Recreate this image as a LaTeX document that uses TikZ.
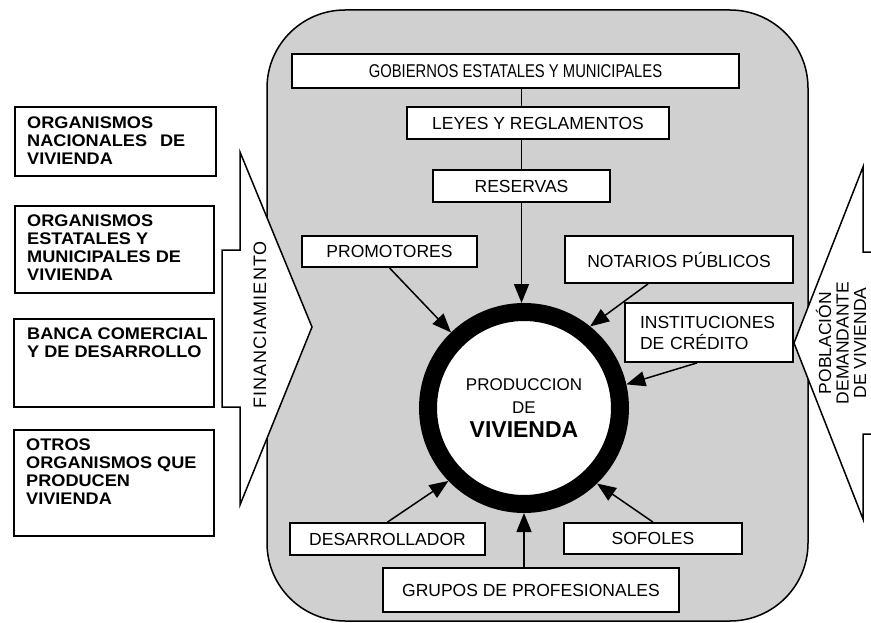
\documentclass[tikz,border=0pt]{standalone}
\usepackage{fontspec}
\setmainfont{Liberation Sans}
\newfontfamily\narrowsans[FakeStretch=0.8]{Liberation Sans}
\newfontfamily\widesans[FakeStretch=1.08]{Liberation Sans}
\usetikzlibrary{arrows.meta}
\definecolor{panelgray}{RGB}{208,208,208}
\begin{document}
\begin{tikzpicture}[x=1pt,y=-1pt,
  box/.style={draw, fill=white, line width=1.8pt, inner sep=0pt,
    font=\fontsize{17.5}{21}\selectfont},
  orgbox/.style={draw, fill=white, line width=1.8pt, inner sep=0pt, anchor=north west},
  orgtext/.style={anchor=north west, inner sep=0pt, align=left,
    font=\widesans\bfseries\fontsize{16.8}{17.7}\selectfont},
  feed/.style={line width=1.5pt, -{Triangle[length=19pt,width=15pt]}},
  link/.style={line width=1.5pt},
  bigarrow/.style={draw, fill=white, line width=1.5pt, line join=miter}
]
\useasboundingbox (0,0) rectangle (871,623);

% central panel
\draw[fill=panelgray, line width=1.5pt, rounded corners=78pt] (267,10) rectangle (808,621);

% financing arrow
\draw[bigarrow] (240,152) -- (312,327) -- (240,505) -- (240,407) -- (222,407)
  -- (222,250) -- (240,250) -- cycle;
\node[rotate=90, inner sep=0pt, font=\fontsize{18}{20}\selectfont\addfontfeatures{LetterSpace=6}]
  (fin) at (260,325) {FINANCIAMIENTO};

% demand arrow
\draw[bigarrow] (885,252) -- (863,252) -- (863,167) -- (794,343) -- (863,519)
  -- (863,434) -- (885,434) -- cycle;
\node[rotate=90, align=center, inner sep=0pt, font=\fontsize{17.5}{17.5}\selectfont]
  (pob) at (841,343) {POBLACIÓN\\DEMANDANTE\\DE VIVIENDA};

% funding bodies
\node[orgbox, minimum width=201pt, minimum height=69pt] (nac) at (14,106) {};
\node[orgtext] (nact) at (27,117) {ORGANISMOS\\NACIONALES\hspace{13pt}DE\\VIVIENDA};
\node[orgbox, minimum width=199pt, minimum height=87pt] (est) at (14,205) {};
\node[orgtext] (estt) at (27,215) {ORGANISMOS\\ESTATALES Y\\MUNICIPALES DE\\VIVIENDA};
\node[orgbox, minimum width=200pt, minimum height=88pt] (ban) at (13,318) {};
\node[orgtext] (bant) at (27,328) {BANCA COMERCIAL\\Y DE DESARROLLO};
\node[orgbox, minimum width=200pt, minimum height=106pt] (otr) at (13,429) {};
\node[orgtext] (otrt) at (26,439) {OTROS\\ORGANISMOS QUE\\PRODUCEN\\VIVIENDA};

% actors around production
\node[box, minimum width=447pt, minimum height=34pt,
  font=\narrowsans\fontsize{18.5}{21}\selectfont] (gob) at (515.5,71)
  {GOBIERNOS ESTATALES Y MUNICIPALES};
\node[box, minimum width=262pt, minimum height=32pt] (ley) at (538,123) {LEYES Y REGLAMENTOS};
\node[box, minimum width=177pt, minimum height=32pt] (res) at (521.5,186) {RESERVAS};
\node[box, minimum width=175pt, minimum height=31pt] (prom) at (389.5,251.5) {PROMOTORES};
\node[box, minimum width=228pt, minimum height=47pt] (nota) at (679,259.5) {NOTARIOS PÚBLICOS};
\node[box, minimum width=168pt, minimum height=59pt, align=left, text width=138pt,
  font=\fontsize{17.5}{21}\selectfont] (inst) at (709,332.5) {INSTITUCIONES\\DE CRÉDITO};
\node[box, minimum width=195pt, minimum height=32pt] (desa) at (387.5,539) {DESARROLLADOR};
\node[box, minimum width=178pt, minimum height=31pt] (sofo) at (653,538.5) {SOFOLES};
\node[box, minimum width=296pt, minimum height=44pt] (grup) at (531,590) {GRUPOS DE PROFESIONALES};

% production ring
\node[circle, draw, fill=white, line width=18pt, minimum size=192pt, inner sep=0pt,
  align=center, font=\fontsize{17}{23}\selectfont] (prod) at (524,408)
  {PRODUCCION\\DE\\[1pt]{\bfseries\fontsize{23}{25}\selectfont VIVIENDA}};

% connectors
\draw[link] (gob.south -| res.south) -- (ley.north -| res.south);
\draw[link] (ley.south -| res.south) -- (res.north);
\draw[feed] (res.south) -- (res.south |- prod.north);
\draw[feed] (prom.south) -- (prod.134);
\draw[feed] ([xshift=-31pt]nota.south) -- (prod.51);
\draw[feed] ([xshift=-12pt]inst.south) -- (prod.13);
\draw[feed] (desa.north) -- (prod.224);
\draw[feed] (sofo.north) -- (prod.314);
\draw[feed] (grup.north -| prod.south) -- (prod.south);
\end{tikzpicture}
\end{document}
